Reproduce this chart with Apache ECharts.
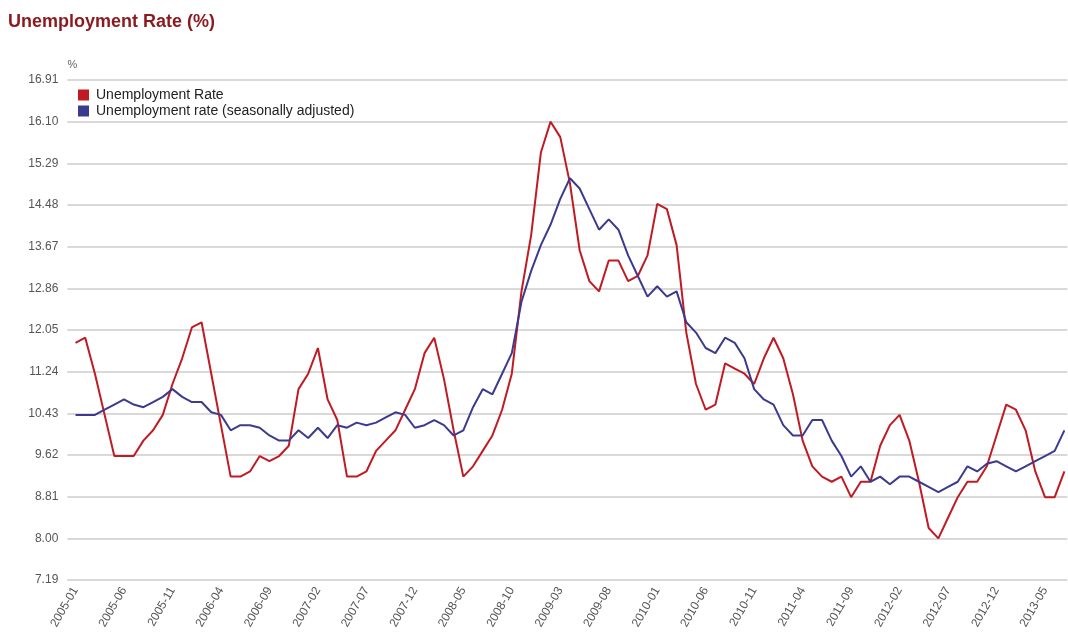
<!DOCTYPE html>
<html>
<head>
<meta charset="utf-8">
<title>Unemployment Rate (%)</title>
<script src="https://cdn.jsdelivr.net/npm/echarts@6/dist/echarts.min.js"></script>
<style>
  html, body { margin: 0; padding: 0; background: #ffffff; }
  #chart { width: 1068px; height: 639px; }
</style>
</head>
<body>
<div id="chart"></div>
<script>
// Monthly periods, 2005-01 .. 2013-07
const months = [
  '2005-01','2005-02','2005-03','2005-04','2005-05','2005-06','2005-07','2005-08','2005-09','2005-10','2005-11','2005-12',
  '2006-01','2006-02','2006-03','2006-04','2006-05','2006-06','2006-07','2006-08','2006-09','2006-10','2006-11','2006-12',
  '2007-01','2007-02','2007-03','2007-04','2007-05','2007-06','2007-07','2007-08','2007-09','2007-10','2007-11','2007-12',
  '2008-01','2008-02','2008-03','2008-04','2008-05','2008-06','2008-07','2008-08','2008-09','2008-10','2008-11','2008-12',
  '2009-01','2009-02','2009-03','2009-04','2009-05','2009-06','2009-07','2009-08','2009-09','2009-10','2009-11','2009-12',
  '2010-01','2010-02','2010-03','2010-04','2010-05','2010-06','2010-07','2010-08','2010-09','2010-10','2010-11','2010-12',
  '2011-01','2011-02','2011-03','2011-04','2011-05','2011-06','2011-07','2011-08','2011-09','2011-10','2011-11','2011-12',
  '2012-01','2012-02','2012-03','2012-04','2012-05','2012-06','2012-07','2012-08','2012-09','2012-10','2012-11','2012-12',
  '2013-01','2013-02','2013-03','2013-04','2013-05','2013-06','2013-07'
];

// Unemployment rate, %
const unemploymentRate = [
  11.8, 11.9, 11.2, 10.4, 9.6, 9.6, 9.6, 9.9, 10.1, 10.4, 11.0, 11.5,
  12.1, 12.2, 11.2, 10.2, 9.2, 9.2, 9.3, 9.6, 9.5, 9.6, 9.8, 10.9,
  11.2, 11.7, 10.7, 10.3, 9.2, 9.2, 9.3, 9.7, 9.9, 10.1, 10.5, 10.9,
  11.6, 11.9, 11.1, 10.1, 9.2, 9.4, 9.7, 10.0, 10.5, 11.2, 12.8, 13.9,
  15.5, 16.1, 15.8, 14.9, 13.6, 13.0, 12.8, 13.4, 13.4, 13.0, 13.1, 13.5,
  14.5, 14.4, 13.7, 12.0, 11.0, 10.5, 10.6, 11.4, 11.3, 11.2, 11.0, 11.5,
  11.9, 11.5, 10.8, 9.9, 9.4, 9.2, 9.1, 9.2, 8.8, 9.1, 9.1, 9.8,
  10.2, 10.4, 9.9, 9.1, 8.2, 8.0, 8.4, 8.8, 9.1, 9.1, 9.4, 10.0,
  10.6, 10.5, 10.1, 9.3, 8.8, 8.8, 9.3
];

// Unemployment rate (seasonally adjusted), %
const seasonallyAdjusted = [
  10.4, 10.4, 10.4, 10.5, 10.6, 10.7, 10.6, 10.55, 10.65, 10.75, 10.9, 10.75,
  10.65, 10.65, 10.45, 10.4, 10.1, 10.2, 10.2, 10.15, 10.0, 9.9, 9.9, 10.1,
  9.95, 10.15, 9.95, 10.2, 10.15, 10.25, 10.2, 10.25, 10.35, 10.45, 10.4, 10.15,
  10.2, 10.3, 10.2, 10.0, 10.1, 10.55, 10.9, 10.8, 11.2, 11.6, 12.6, 13.2,
  13.7, 14.1, 14.6, 15.0, 14.8, 14.4, 14.0, 14.2, 14.0, 13.5, 13.1, 12.7,
  12.9, 12.7, 12.8, 12.2, 12.0, 11.7, 11.6, 11.9, 11.8, 11.5, 10.9, 10.7,
  10.6, 10.2, 10.0, 10.0, 10.3, 10.3, 9.9, 9.6, 9.2, 9.4, 9.1, 9.2,
  9.05, 9.2, 9.2, 9.1, 9.0, 8.9, 9.0, 9.1, 9.4, 9.3, 9.45, 9.5,
  9.4, 9.3, 9.4, 9.5, 9.6, 9.7, 10.1
];

// Axis ticks
const yTicks = [7.19, 8.00, 8.81, 9.62, 10.43, 11.24, 12.05, 12.86, 13.67, 14.48, 15.29, 16.10, 16.91];
const xTickIndexes = [0, 5, 10, 15, 20, 25, 30, 35, 40, 45, 50, 55, 60, 65, 70, 75, 80, 85, 90, 95, 100];

const seriesNames = ['Unemployment Rate', 'Unemployment rate (seasonally adjusted)'];
const seriesColors = ['#c01a22', '#3b3b8e'];

const toPoints = arr => arr.map((v, i) => [i, v]);

const chart = echarts.init(document.getElementById('chart'), null, { renderer: 'canvas' });

chart.setOption({
  animation: false,
  backgroundColor: '#ffffff',
  textStyle: { fontFamily: 'Arial, "Liberation Sans", sans-serif' },
  title: {
    text: 'Unemployment Rate (%)',
    left: 3,
    top: 8,
    textStyle: { color: '#8b1a1e', fontSize: 18, fontWeight: 'bold', fontFamily: 'Arial, "Liberation Sans", sans-serif' }
  },
  legend: {
    orient: 'vertical',
    left: 73,
    top: 83,
    itemWidth: 11,
    itemHeight: 11,
    itemGap: 2,
    icon: 'rect',
    textStyle: { color: '#222222', fontSize: 14, lineHeight: 14, padding: [0, 0, 0, 2] },
    data: seriesNames
  },
  grid: { left: 67.3, right: 0.7, top: 80, bottom: 59 },
  xAxis: {
    type: 'value',
    min: -0.85,
    max: 102.3,
    axisLine: { show: false },
    axisTick: { show: false, customValues: xTickIndexes },
    splitLine: { show: false },
    axisLabel: {
      customValues: xTickIndexes,
      formatter: v => months[v],
      rotate: 60,
      margin: 8,
      color: '#555555',
      fontSize: 12
    }
  },
  yAxis: {
    type: 'value',
    name: '%',
    nameLocation: 'end',
    nameGap: 10,
    nameTextStyle: { color: '#666666', fontSize: 11, align: 'left', padding: [0, 0, 0, -8] },
    min: 7.19,
    max: 16.91,
    axisLine: { show: false },
    axisTick: { show: false, customValues: yTicks },
    axisLabel: {
      customValues: yTicks,
      formatter: v => v.toFixed(2),
      color: '#555555',
      fontSize: 12,
      margin: 9
    },
    splitLine: { show: true, lineStyle: { color: '#d9d9d9', width: 2 } }
  },
  series: [
    {
      name: seriesNames[0],
      type: 'line',
      data: toPoints(unemploymentRate),
      showSymbol: false,
      symbol: 'none',
      color: seriesColors[0],
      lineStyle: { color: seriesColors[0], width: 2 }
    },
    {
      name: seriesNames[1],
      type: 'line',
      data: toPoints(seasonallyAdjusted),
      showSymbol: false,
      symbol: 'none',
      color: seriesColors[1],
      lineStyle: { color: seriesColors[1], width: 2 }
    }
  ]
});
</script>
</body>
</html>
